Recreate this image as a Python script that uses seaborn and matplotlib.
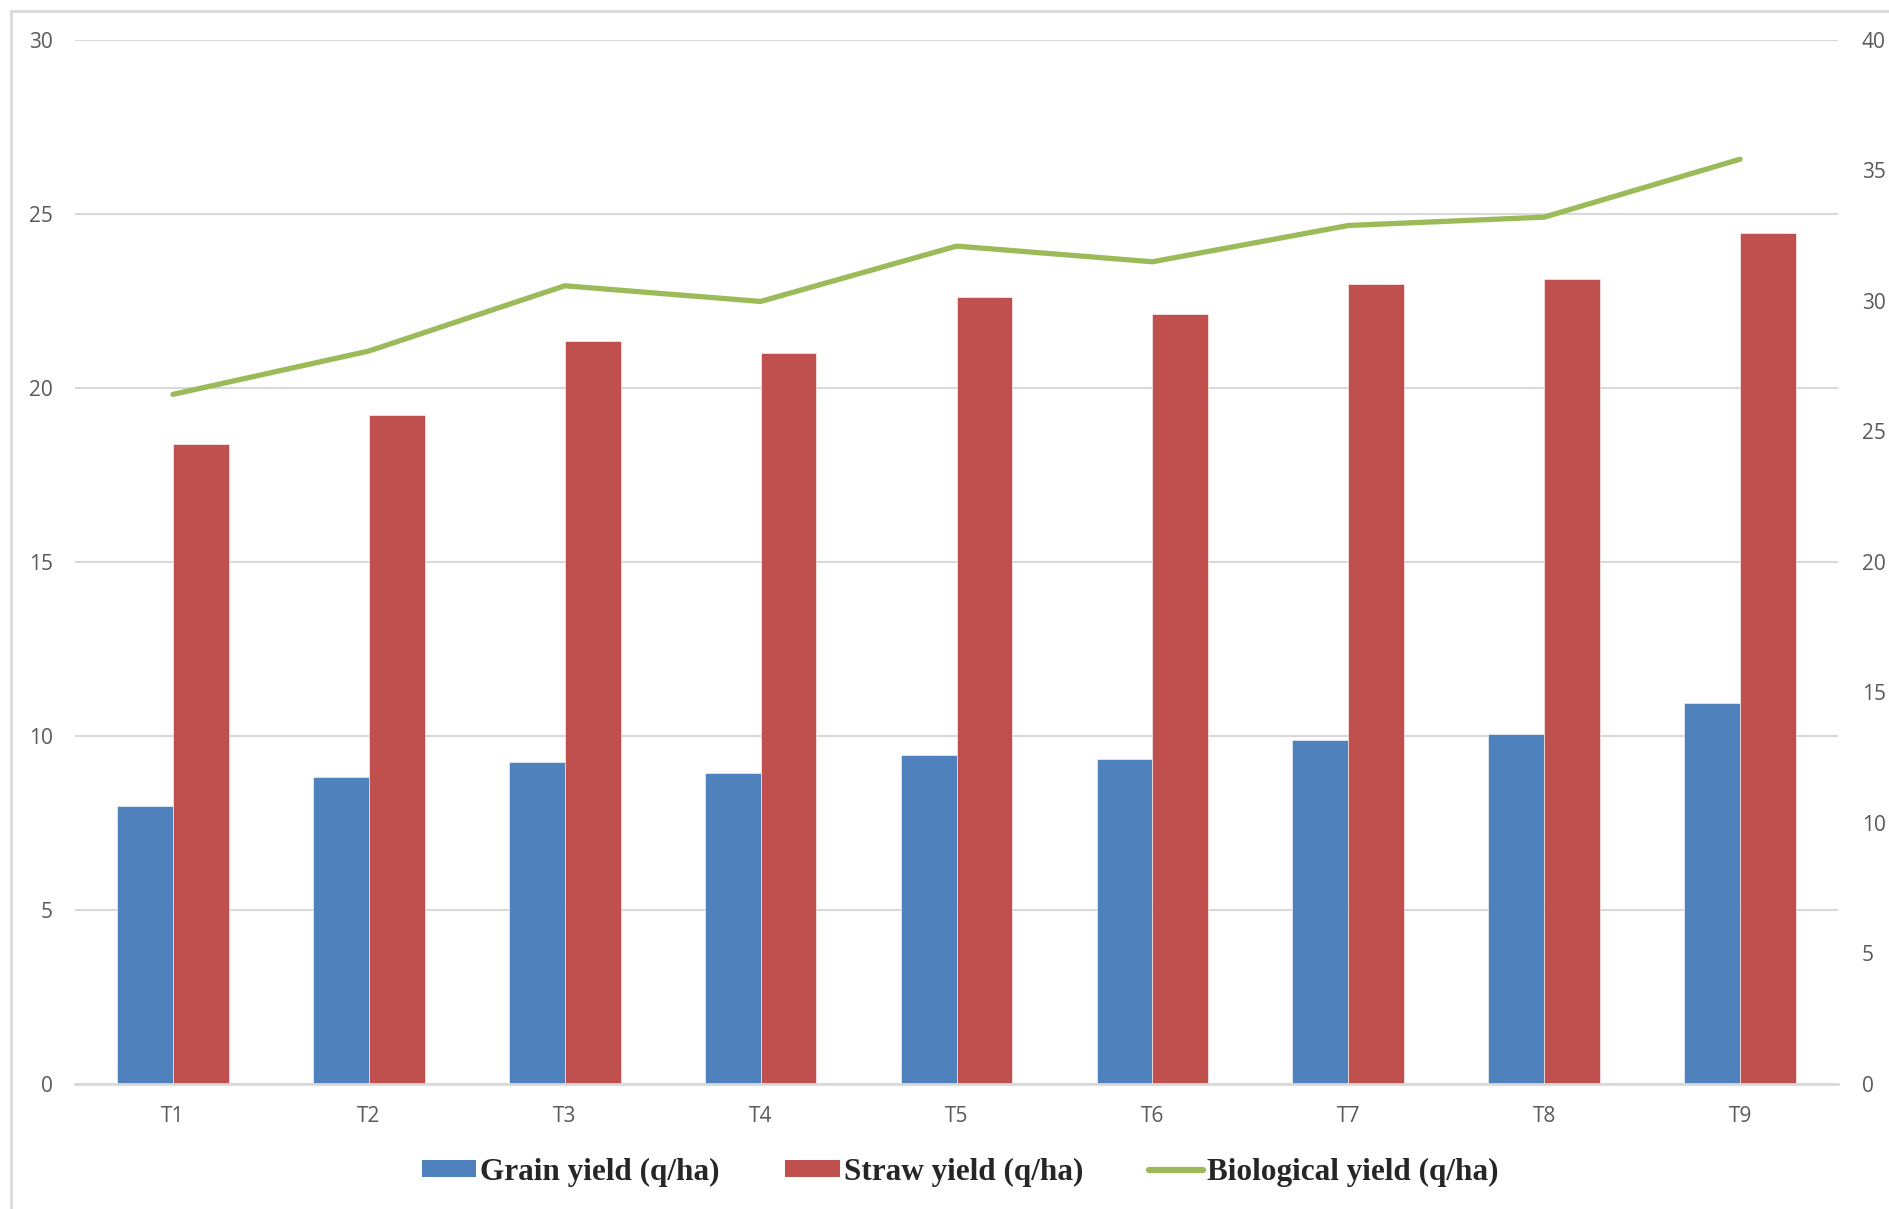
import numpy as np
import pandas as pd
import matplotlib
matplotlib.use("Agg")
import matplotlib.pyplot as plt
from matplotlib.patches import Patch, Rectangle
from matplotlib.lines import Line2D
import seaborn as sns

# --- DATA ---
treatments = ["T1", "T2", "T3", "T4", "T5", "T6", "T7", "T8", "T9"]
grain_yield = [8.0, 8.83, 9.25, 8.94, 9.46, 9.35, 9.87, 10.05, 10.95]
straw_yield = [18.39, 19.22, 21.34, 20.99, 22.62, 22.13, 23.0, 23.14, 24.45]
bio_yield = [26.42, 28.08, 30.58, 29.98, 32.1, 31.5, 32.89, 33.21, 35.43]

left_ticks = [0, 5, 10, 15, 20, 25, 30]
right_ticks = [0, 5, 10, 15, 20, 25, 30, 35, 40]

BLUE = "#4F81BD"
RED = "#C0504D"
GREEN = "#9BBB59"
GRID = "#D9D9D9"
TXT = "#595959"

sns.set_theme(style="white")
plt.rcParams['font.family'] = ['Open Sans', 'DejaVu Sans']

df = pd.DataFrame({
    "Treatment": treatments * 2,
    "Yield": grain_yield + straw_yield,
    "Series": ["Grain yield (q/ha)"] * len(treatments) + ["Straw yield (q/ha)"] * len(treatments),
})

fig = plt.figure(figsize=(18.9, 12.09), dpi=100)
ax = fig.add_axes([0.0397, 0.1034, 0.9328, 0.8636])

sns.barplot(data=df, x="Treatment", y="Yield", hue="Series", order=treatments,
            palette=[BLUE, RED], width=0.57, gap=0, ax=ax, legend=False,
            edgecolor="white", linewidth=0.4, saturation=1)

ax.set_ylim(0, 30)
ax.set_xlim(-0.5, len(treatments) - 0.5)
ax.set_yticks(left_ticks)
ax.yaxis.grid(True, color=GRID, linewidth=1.5)
ax.set_axisbelow(True)
ax.set_xlabel("")
ax.set_ylabel("")
for s in ["top", "right", "left"]:
    ax.spines[s].set_visible(False)
ax.spines["bottom"].set_color(GRID)
ax.spines["bottom"].set_linewidth(2)
ax.tick_params(axis="both", length=0, labelsize=15, colors=TXT)
ax.tick_params(axis="x", pad=16)
ax.tick_params(axis="y", pad=16)

ax2 = ax.twinx()
sns.lineplot(x=np.arange(len(treatments)), y=bio_yield, ax=ax2, color=GREEN,
             linewidth=3.8, solid_capstyle="round")
ax2.set_ylim(0, 40)
ax2.set_yticks(right_ticks)
ax2.set_xlim(-0.5, len(treatments) - 0.5)
for s in ["top", "right", "left", "bottom"]:
    ax2.spines[s].set_visible(False)
ax2.tick_params(axis="y", length=0, labelsize=15, colors=TXT, pad=17)

# outer chart border
fig.patches.append(Rectangle((11 / 1890, -0.01), 1.0, 1 - 11 / 1209 + 0.01,
                             transform=fig.transFigure, fill=False,
                             edgecolor=GRID, linewidth=2))

handles = [
    Patch(facecolor=BLUE, edgecolor="none"),
    Patch(facecolor=RED, edgecolor="none"),
    Line2D([0], [0], color=GREEN, linewidth=4.5),
]
labels = ["Grain yield (q/ha)", "Straw yield (q/ha)", "Biological yield (q/ha)"]
fig.legend(handles, labels, loc="center", bbox_to_anchor=(0.508, 0.0305), ncol=3,
           frameon=False, handlelength=1.75, handleheight=0.5, handletextpad=0.12,
           columnspacing=2.1,
           prop={"family": "Liberation Serif", "weight": "bold", "size": 22.5})

fig.savefig("out.png", dpi=100)
